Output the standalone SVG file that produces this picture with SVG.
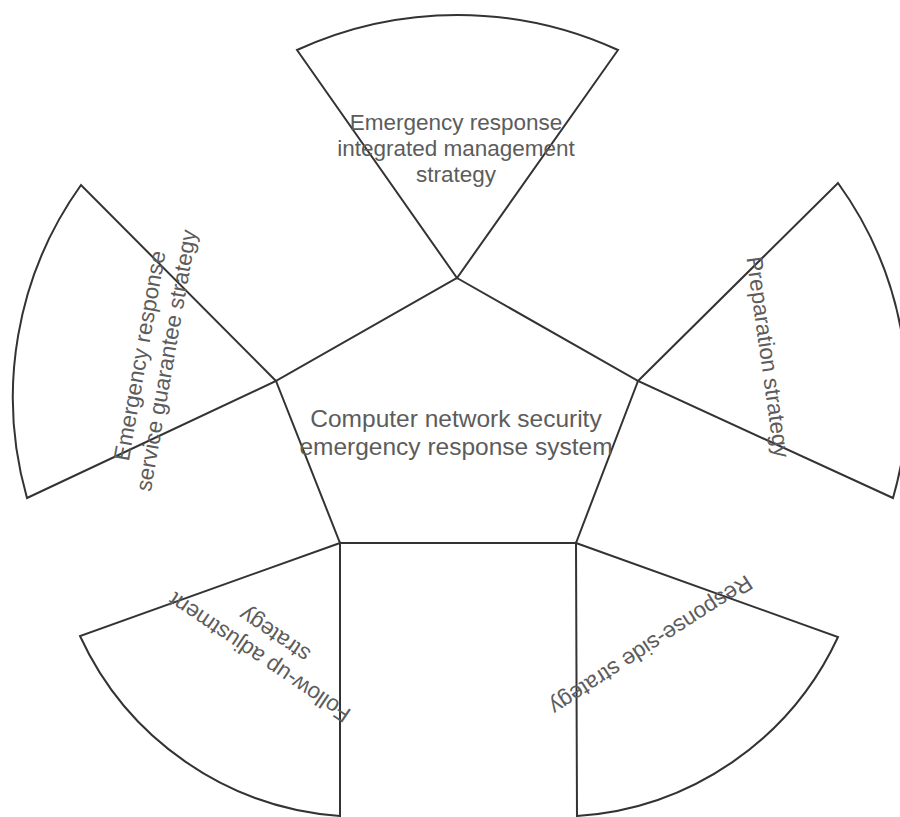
<svg xmlns="http://www.w3.org/2000/svg" width="900" height="817" viewBox="0 0 900 817">
  <style>
    .shape { fill: none; stroke: #333333; stroke-width: 2; stroke-linejoin: miter; }
    .label { font-family: "Liberation Sans", Arial, sans-serif; fill: #5c5c5c; text-anchor: middle; }
    .core { font-size: 24.5px; }
    .petal { font-size: 22.5px; }
  </style>
  <rect width="900" height="817" fill="#ffffff"/>

  <!-- central pentagon -->
  <g id="core">
    <path class="shape" d="M457,278 L638,381 L576,543 L340,543 L276,381 Z"/>
    <text class="label core"><tspan x="456" y="427">Computer network security</tspan><tspan x="456" y="455">emergency response system</tspan></text>
  </g>

  <!-- top sector -->
  <g id="integrated-management">
    <path class="shape" d="M457,278 L297,50 A385,385 0 0 1 618,50 Z"/>
    <text class="label petal"><tspan x="456" y="130">Emergency response</tspan><tspan x="456" y="156">integrated management</tspan><tspan x="456" y="182">strategy</tspan></text>
  </g>

  <!-- left sector -->
  <g id="service-guarantee">
    <path class="shape" d="M276,381 L81,185 A365,365 0 0 0 27,498 Z"/>
    <text class="label petal" transform="translate(153,358) rotate(-80)"><tspan x="0" y="-6">Emergency response</tspan><tspan x="0" y="21">service guarantee strategy</tspan></text>
  </g>

  <!-- right sector -->
  <g id="preparation">
    <path class="shape" d="M638,381 L838,183 A365,365 0 0 1 893,498 Z"/>
    <text class="label petal" transform="translate(768,357) rotate(82)"><tspan x="0" y="7.5">Preparation strategy</tspan></text>
  </g>

  <!-- lower right sector -->
  <g id="response-side">
    <path class="shape" d="M576,543 L838,637 A310,310 0 0 1 577,816 Z"/>
    <text class="label petal" transform="translate(651,645) rotate(147)"><tspan x="0" y="7.5">Response-side strategy</tspan></text>
  </g>

  <!-- lower left sector -->
  <g id="follow-up">
    <path class="shape" d="M340,543 L80,636 A310,310 0 0 0 340,816 Z"/>
    <text class="label petal" transform="translate(267,646) rotate(-146)"><tspan x="0" y="-6">Follow-up adjustment</tspan><tspan x="0" y="21">strategy</tspan></text>
  </g>

  <g id="connectors"/>
</svg>
